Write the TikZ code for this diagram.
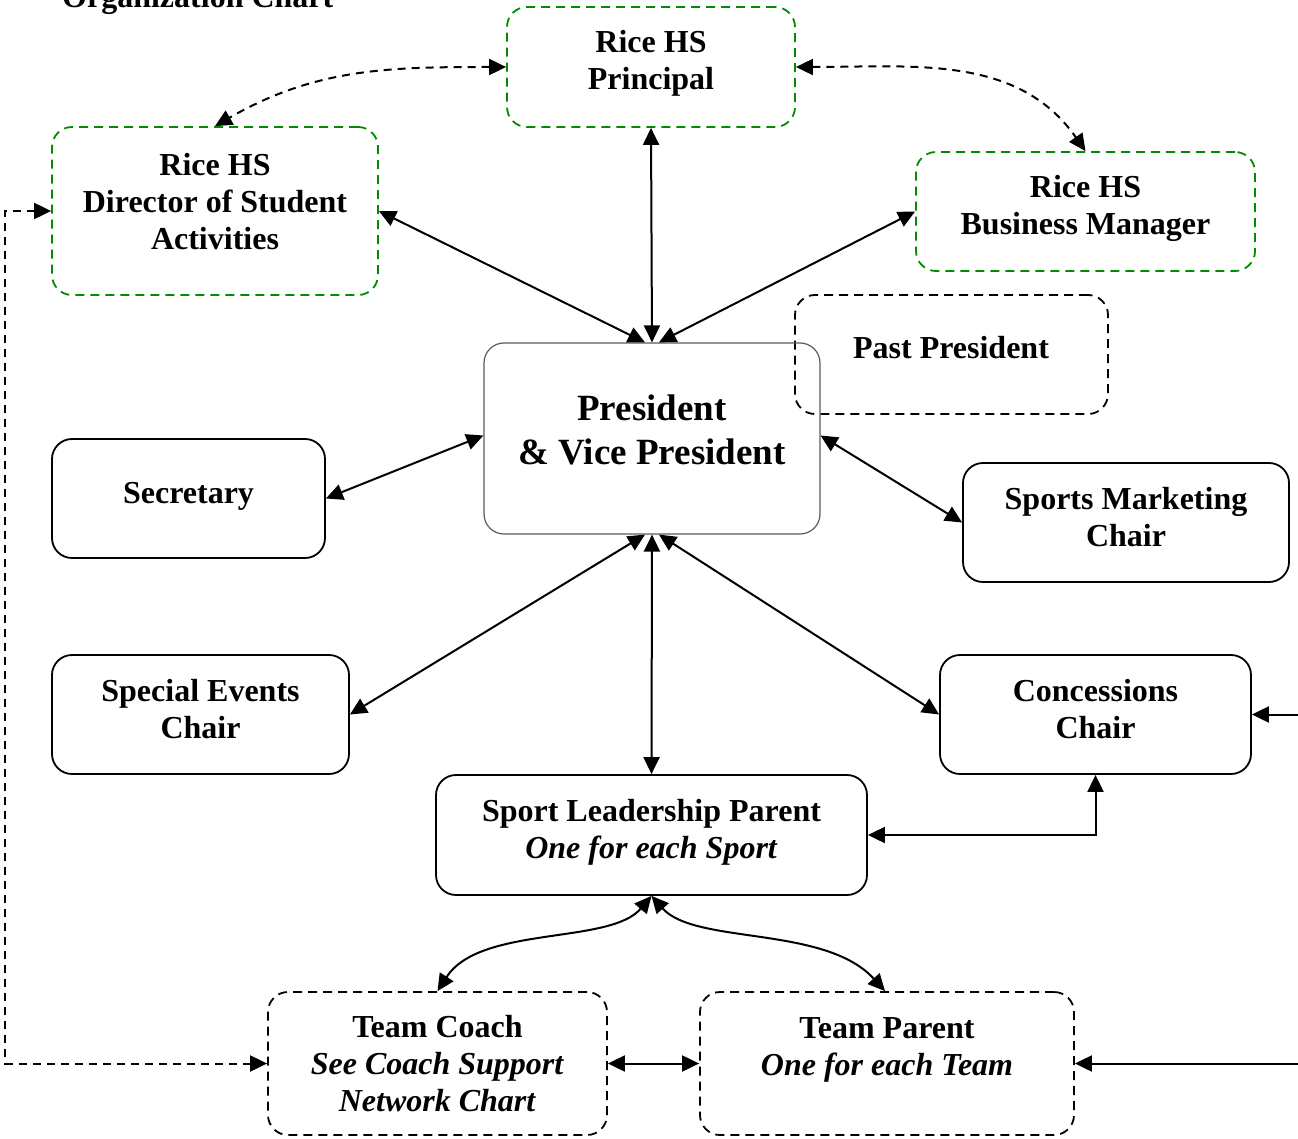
\documentclass[tikz,border=0pt]{standalone}
\usepackage{fontspec}
\setmainfont{Liberation Serif}
\usetikzlibrary{arrows.meta}
\definecolor{boxgreen}{RGB}{0,140,0}
\definecolor{presgray}{RGB}{90,90,90}
\tikzset{
  tip/.style={arrows={Triangle[length=17pt,width=16pt]-Triangle[length=17pt,width=16pt]}},
  onetip/.style={arrows={-Triangle[length=17pt,width=16pt]}},
  conn/.style={line width=2pt, tip},
  dconn/.style={line width=2pt, tip, dash pattern=on 8pt off 6pt},
  box/.style={draw, rounded corners=20pt, line width=1.8pt, inner sep=0pt},
  gbox/.style={box, draw=boxgreen, dash pattern=on 9pt off 6pt},
  dbox/.style={box, dash pattern=on 9pt off 6pt},
  lbl/.style={align=center, font=\bfseries\fontsize{32}{37}\selectfont, inner sep=0pt},
}
\begin{document}
\begin{tikzpicture}[x=1pt,y=-1pt]
\useasboundingbox (0,0) rectangle (1298,1139);
% title
\node[anchor=base west, font=\bfseries\fontsize{32}{37}\selectfont, inner sep=0pt] (title) at (62,8) {Organization Chart};
% boxes
\node[gbox, minimum width=288pt, minimum height=120pt] (pr) at (651,67) {};
\node[lbl] (prt) at (651,63) {Rice HS\\Principal};
\node[gbox, minimum width=326pt, minimum height=168pt] (dir) at (215,211) {};
\node[lbl] (dirt) at (215,202) {Rice HS\\Director of Student\\Activities};
\node[gbox, minimum width=339pt, minimum height=119pt] (bm) at (1085.5,211.5) {};
\node[lbl] (bmt) at (1085.5,208.5) {Rice HS\\Business Manager};
\node[dbox, minimum width=313pt, minimum height=119pt] (pp) at (951.5,354.5) {};
\node[lbl] (ppt) at (951,348) {Past President};
\node[box, draw=presgray, line width=1.2pt, minimum width=336pt, minimum height=191pt] (pres) at (652,438.5) {};
\node[lbl, font=\bfseries\fontsize{37}{44}\selectfont] (prest) at (652,429.5) {President\\\& Vice President};
\node[box, minimum width=273pt, minimum height=119pt] (sec) at (188.5,498.5) {};
\node[lbl] (sect) at (188.5,496.5) {Secretary};
\node[box, minimum width=326pt, minimum height=119pt] (smc) at (1126,522.5) {};
\node[lbl] (smct) at (1126,517.5) {Sports Marketing\\Chair};
\node[box, minimum width=297pt, minimum height=119pt] (spe) at (200.5,714.5) {};
\node[lbl] (spet) at (200.5,709) {Special Events\\Chair};
\node[box, minimum width=311pt, minimum height=119pt] (con) at (1095.5,714.5) {};
\node[lbl] (cont) at (1095.5,709) {Concessions\\Chair};
\node[box, minimum width=431pt, minimum height=120pt] (sl) at (651.5,835) {};
\node[lbl] (slt) at (651.5,832) {Sport Leadership Parent\\\textit{One for each Sport}};
\node[dbox, minimum width=339pt, minimum height=143pt] (tc) at (437.5,1063.5) {};
\node[lbl] (tct) at (437.5,1064) {Team Coach\\\textit{See Coach Support}\\\textit{Network Chart}};
\node[dbox, minimum width=374pt, minimum height=143pt] (tp) at (887,1063.5) {};
\node[lbl] (tpt) at (887,1050) {Team Parent\\\textit{One for each Team}};
% connectors
\draw[conn] (pr.south) -- (pres.north);
\draw[conn] (dir.east) -- ([xshift=-7pt]pres.north);
\draw[conn] (bm.west) -- ([xshift=7pt]pres.north);
\draw[dconn] (pr.west) to[out=180,in=30] (dir.north);
\draw[dconn] (pr.east) to[out=0,in=125] (bm.north);
\draw[conn] (sec.east) -- ([yshift=3pt]pres.west);
\draw[conn] ([yshift=3pt]pres.east) -- (smc.west);
\draw[conn] ([xshift=-7pt]pres.south) -- (spe.east);
\draw[conn] (pres.south) -- (sl.north);
\draw[conn] ([xshift=7pt]pres.south) -- (con.west);
\draw[conn] (sl.east) -| (con.south);
\coordinate (r1) at (1298,714.5);
\coordinate (r2) at (1298,1063.5);
\draw[line width=2pt, onetip] (r1) -- (con.east);
\draw[line width=2pt, onetip] (r2) -- (tp.east);
\coordinate (lb) at (5,1063.5);
\coordinate (lt) at (5,211);
\draw[dconn] (tc.west) -- (lb) -- (lt) -- (dir.west);
\draw[conn] (tc.east) -- (tp.west);
\draw[conn] (sl.south) .. controls (610,945) and (480,925) .. (tc.north);
\draw[conn] (sl.south) .. controls (695,945) and (825,925) .. ([xshift=-2pt]tp.north);
\end{tikzpicture}
\end{document}
